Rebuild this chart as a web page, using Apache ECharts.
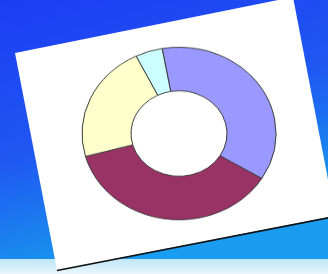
<!DOCTYPE html>
<html>
<head>
<meta charset="UTF-8">
<title>Donut on card</title>
<script src="https://cdn.jsdelivr.net/npm/echarts@6/dist/echarts.min.js"></script>
<style>
    body { margin: 0; width: 328px; height: 274px; overflow: hidden; }
    #bg, #pie { position: absolute; left: 0; top: 0; width: 328px; height: 274px; }
    /* the photo squashes the donut a little, so flatten the pie layer */
    #pie { transform-origin: 179px 133.5px; transform: scaleY(0.89); }
</style>
</head>
<body>
<div id="bg"></div>
<div id="pie"></div>
<script>
// slice data, clockwise from just left of the top
var sliceNames = ['A', 'B', 'C', 'D'];
var sliceValues = [36.5, 37, 22, 4.5];
var sliceColors = ['#9999ff', '#993366', '#ffffcc', '#ccffff'];

// background: blue screen, bottom light band, tilted white card
var bgChart = echarts.init(document.getElementById('bg'));
bgChart.setOption({
    backgroundColor: new echarts.graphic.LinearGradient(0, 0, 0.25, 1, [
        { offset: 0, color: '#1d3cf2' },
        { offset: 0.55, color: '#1f58f2' },
        { offset: 0.85, color: '#1a86ee' },
        { offset: 1, color: '#1a9cf0' }
    ]),
    graphic: [
        {
            type: 'rect',
            shape: { x: 0, y: 259, width: 328, height: 15 },
            style: {
                fill: new echarts.graphic.LinearGradient(0, 0, 0, 1, [
                    { offset: 0, color: '#bfe6f8' },
                    { offset: 1, color: '#e8f7fc' }
                ])
            }
        },
        {
            type: 'polygon',
            shape: { points: [[15, 53], [293, -3], [335, 216], [57, 270]] },
            style: { fill: '#ffffff' }
        },
        {
            type: 'polyline',
            shape: { points: [[57, 270.5], [335, 216.5]] },
            style: { stroke: '#111', lineWidth: 1.6, fill: null }
        }
    ]
});

// the donut
var pieChart = echarts.init(document.getElementById('pie'));
var pieData = sliceNames.map(function (n, i) {
    return { name: n, value: sliceValues[i], itemStyle: { color: sliceColors[i] } };
});
pieChart.setOption({
    backgroundColor: 'transparent',
    animation: false,
    series: [{
        type: 'pie',
        center: [179, 133.5],
        radius: [48, 97],
        startAngle: 100,
        label: { show: false },
        labelLine: { show: false },
        itemStyle: { borderColor: '#3a3a3a', borderWidth: 1 },
        data: pieData
    }]
});
</script>
</body>
</html>
